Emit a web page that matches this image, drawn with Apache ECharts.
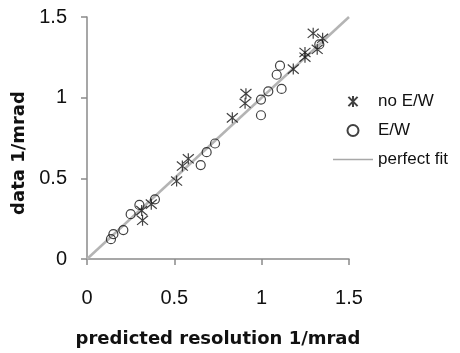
<!DOCTYPE html>
<html><head><meta charset="utf-8">
<script src="https://cdn.jsdelivr.net/npm/echarts@6/dist/echarts.min.js"></script>
<style>html,body{margin:0;padding:0;background:#fff}#c{width:460px;height:353px}</style>
</head><body><div id="c"></div>
<script>
const noEWx = [1.295, 1.349, 1.318, 1.248, 1.248, 1.181, 0.910, 0.905, 0.832, 0.580, 0.546, 0.513, 0.368, 0.313, 0.318];
const noEWy = [1.399, 1.368, 1.300, 1.280, 1.251, 1.177, 1.025, 0.965, 0.875, 0.621, 0.576, 0.483, 0.340, 0.300, 0.240];
const ewX = [1.105, 1.086, 1.114, 1.038, 0.996, 0.996, 0.733, 0.685, 0.651, 0.389, 0.300, 0.250, 0.208, 0.151, 0.137, 1.330];
const ewY = [1.198, 1.142, 1.054, 1.039, 0.988, 0.891, 0.716, 0.662, 0.582, 0.370, 0.335, 0.278, 0.179, 0.154, 0.123, 1.330];
const fitX = [0, 1.5];
const fitY = [0, 1.5];
const ticks = [0, 0.5, 1, 1.5];

const zip = (a, b) => a.map((v, i) => [v, b[i]]);
const starPath = 'path://M0,0L10,10M10,0L0,10M5,-1L5,11';

const axisCommon = {
  type: 'value', min: 0, max: 1.5, interval: 0.5,
  splitLine: { show: false },
  axisLine: { show: true, lineStyle: { color: '#8a8a8a', width: 1.5 } },
  axisTick: { show: true, length: 6, lineStyle: { color: '#8a8a8a', width: 1.5 } },
  axisLabel: { color: '#111', fontSize: 20, fontFamily: 'Liberation Sans',
    formatter: v => String(v) },
  nameLocation: 'middle',
  nameTextStyle: { color: '#111', fontSize: 18, fontWeight: 'bold', fontFamily: 'DejaVu Sans' }
};

const chart = echarts.init(document.getElementById('c'));
chart.setOption({
  animation: false,
  grid: { left: 87, right: 111, top: 17, bottom: 93 },
  xAxis: Object.assign({}, axisCommon, {
    name: 'predicted resolution 1/mrad', nameGap: 71,
    axisLabel: Object.assign({}, axisCommon.axisLabel, { margin: 29 })
  }),
  yAxis: Object.assign({}, axisCommon, {
    name: 'data 1/mrad', nameGap: 58,
    nameTextStyle: Object.assign({}, axisCommon.nameTextStyle, { padding: [0, 30, 0, 0] }),
    axisLabel: Object.assign({}, axisCommon.axisLabel, { margin: 20 })
  }),
  legend: {
    orient: 'vertical', left: 328, top: 88, itemWidth: 40, itemHeight: 11, itemGap: 12,
    textStyle: { color: '#111', fontSize: 17, fontFamily: 'Liberation Sans' },
    data: [
      { name: 'no E/W' },
      { name: 'E/W' },
      { name: 'perfect fit', icon: 'path://M0,0L40,0L40,1.5L0,1.5Z', itemStyle: { color: '#a8a8a8' } }
    ]
  },
  series: [
    {
      name: 'perfect fit', type: 'line', data: zip(fitX, fitY), symbol: 'none', showSymbol: false, z: 1,
      lineStyle: { color: '#b4b4b4', width: 2.5 }, itemStyle: { color: '#b4b4b4' }
    },
    {
      name: 'no E/W', type: 'scatter', data: zip(noEWx, noEWy), symbol: starPath, symbolSize: 11, z: 3,
      itemStyle: { color: 'rgba(0,0,0,0)', borderColor: '#111', borderWidth: 1.2 }
    },
    {
      name: 'E/W', type: 'scatter', data: zip(ewX, ewY), symbol: 'circle', symbolSize: 9, z: 2,
      itemStyle: { color: 'rgba(0,0,0,0)', borderColor: '#111', borderWidth: 1.2 }
    }
  ]
});
</script></body></html>
